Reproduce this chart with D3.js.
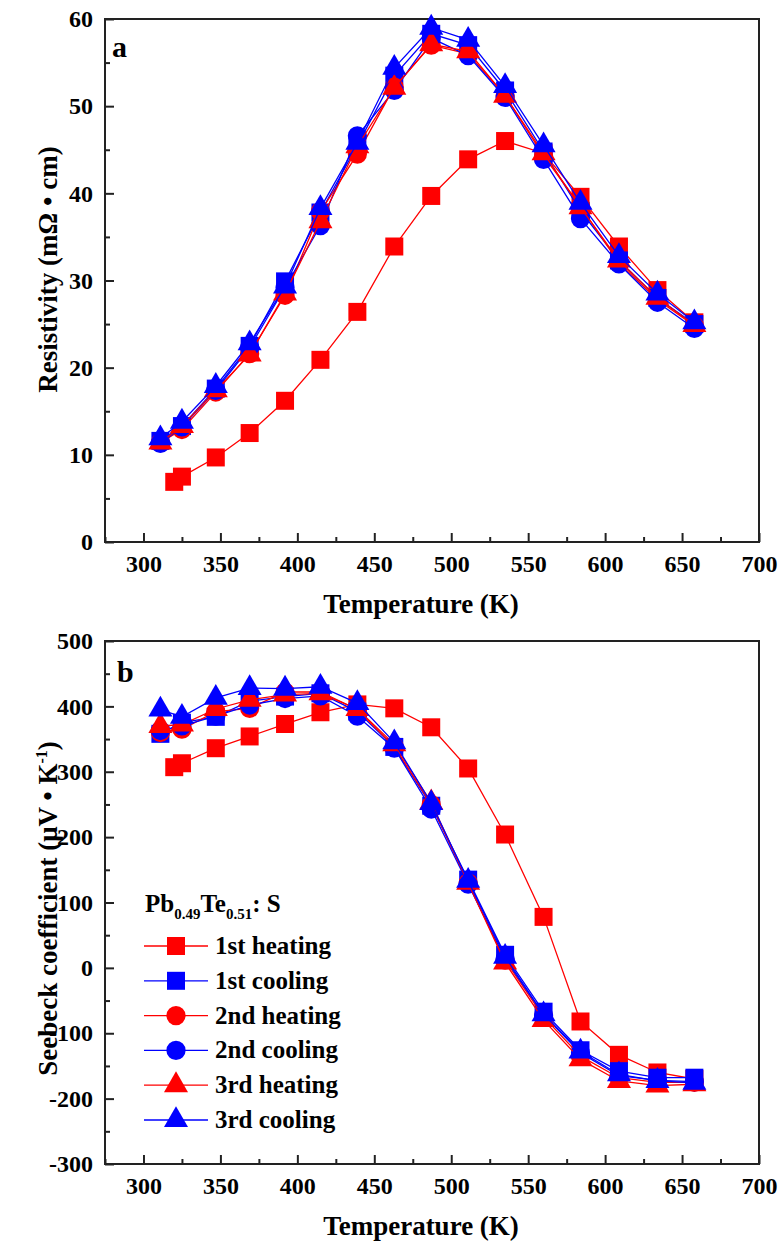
<!DOCTYPE html>
<html>
<head>
<meta charset="utf-8">
<script src="https://cdn.jsdelivr.net/npm/d3@7"></script>
<style>
  html, body { margin: 0; padding: 0; background: #fff; }
  svg { display: block; }
</style>
</head>
<body>
<svg id="chart" width="781" height="1246"></svg>
<script>
// Measurement temperatures (K)
const tempsCycle = [311, 325, 347, 369, 392, 415, 439, 463, 487, 511, 535, 560, 584, 609, 634, 658];
const tempsFirstHeating = [320, 325, 347, 369, 392, 415, 439, 463, 487, 511, 535, 560, 584, 609, 634, 658];

const seriesNames = ["1st heating", "1st cooling", "2nd heating", "2nd cooling", "3rd heating", "3rd cooling"];

// Resistivity (mΩ·cm)
const rho1stHeating = [6.9, 7.5, 9.7, 12.5, 16.2, 20.9, 26.4, 33.9, 39.7, 43.9, 46.0, 44.6, 39.6, 33.9, 28.9, 25.2];
const rho1stCooling = [11.6, 13.3, 17.6, 22.5, 29.9, 37.8, 45.5, 53.5, 58.3, 57.0, 51.8, 44.8, 38.0, 32.3, 28.0, 25.0];
const rho2ndHeating = [11.4, 12.9, 17.2, 21.6, 28.3, 37.9, 44.5, 52.2, 57.0, 56.0, 51.2, 44.3, 38.5, 32.0, 27.8, 24.8];
const rho2ndCooling = [11.3, 13.2, 17.4, 22.3, 29.2, 36.3, 46.6, 51.8, 57.8, 55.8, 51.0, 43.9, 37.1, 31.9, 27.5, 24.5];
const rho3rdHeating = [11.4, 13.3, 17.4, 21.5, 28.5, 36.8, 45.4, 52.1, 57.1, 56.3, 51.2, 44.6, 38.4, 32.3, 28.0, 24.9];
const rho3rdCooling = [11.9, 13.8, 17.9, 22.8, 29.3, 38.3, 45.8, 54.4, 59.0, 57.6, 52.3, 45.5, 38.9, 32.8, 28.5, 25.2];

// Seebeck coefficient (µV/K)
const seeb1stHeating = [307, 313, 336, 354, 373, 391, 403, 397, 368, 305, 204, 78, -82, -133, -160, -170];
const seeb1stCooling = [358, 375, 384, 408, 415, 420, 392, 338, 248, 135, 20, -67, -126, -158, -168, -168];
const seeb2ndHeating = [360, 365, 392, 397, 422, 422, 395, 338, 250, 130, 12, -75, -135, -168, -175, -175];
const seeb2ndCooling = [363, 370, 385, 402, 412, 416, 385, 336, 243, 128, 14, -72, -130, -165, -172, -174];
const seeb3rdHeating = [370, 372, 396, 410, 418, 420, 396, 342, 253, 130, 8, -80, -140, -173, -180, -178];
const seeb3rdCooling = [395, 384, 413, 428, 427, 430, 405, 345, 252, 133, 17, -71, -128, -163, -173, -176];

// Axis ticks
const xTicks = [300, 350, 400, 450, 500, 550, 600, 650, 700];
const yTicksRho = [0, 10, 20, 30, 40, 50, 60];
const yTicksSeeb = [-300, -200, -100, 0, 100, 200, 300, 400, 500];

const RED = "#ff0000", BLUE = "#0000ff";
const FONT = "'Liberation Serif', 'Times New Roman', Tinos, serif";
const styles = [
  { color: RED,  shape: d3.symbolSquare,   size: 324 },
  { color: BLUE, shape: d3.symbolSquare,   size: 324 },
  { color: RED,  shape: d3.symbolCircle,   size: 290 },
  { color: BLUE, shape: d3.symbolCircle,   size: 290 },
  { color: RED,  shape: d3.symbolTriangle, size: 250 },
  { color: BLUE, shape: d3.symbolTriangle, size: 250 }
];

const svg = d3.select("#chart");
const plotLeft = 105, plotRight = 759;
const plainNumber = d => String(d);   // hyphen-minus for negative labels

function drawPanel(opts) {
  const g = svg.append("g");
  const x = d3.scaleLinear().domain([275, 700]).range([plotLeft, plotRight]);
  const y = d3.scaleLinear().domain(opts.yDomain).range([opts.bottom, opts.top]);

  // frame
  g.append("rect")
    .attr("x", plotLeft).attr("y", opts.top)
    .attr("width", plotRight - plotLeft).attr("height", opts.bottom - opts.top)
    .attr("fill", "none").attr("stroke", "#222").attr("stroke-width", 2);

  // x axis: major ticks labelled, minor ticks in between, pointing inward
  const xMinor = d3.range(275, 701, 25).filter(v => !xTicks.includes(v));
  const xAx = g.append("g").attr("transform", `translate(0,${opts.bottom})`);
  xAx.call(d3.axisBottom(x).tickValues(xTicks).tickSize(-9).tickPadding(20).tickFormat(plainNumber));
  xAx.append("g").call(d3.axisBottom(x).tickValues(xMinor).tickSize(-5).tickFormat(""));
  xAx.selectAll(".domain").remove();

  // y axis
  const yAx = g.append("g").attr("transform", `translate(${plotLeft},0)`);
  yAx.call(d3.axisLeft(y).tickValues(opts.yTicks).tickSize(-9).tickPadding(12).tickFormat(plainNumber));
  yAx.append("g").call(d3.axisLeft(y).tickValues(opts.yMinor).tickSize(-5).tickFormat(""));
  yAx.selectAll(".domain").remove();

  g.selectAll(".tick line").attr("stroke", "#222").attr("stroke-width", 2);
  g.selectAll(".tick text").attr("font-size", 24).attr("fill", "#000");
  xAx.selectAll(".tick text").attr("dy", "0.42em");

  // series lines then markers, drawn in cycle order
  const line = d3.line().x(d => x(d[0])).y(d => y(d[1]));
  opts.series.forEach((vals, i) => {
    const temps = i === 0 ? tempsFirstHeating : tempsCycle;
    const pts = temps.map((t, k) => [t, vals[k]]);
    const st = styles[i];
    g.append("path").datum(pts)
      .attr("d", line).attr("fill", "none")
      .attr("stroke", st.color).attr("stroke-width", 1.3);
    g.selectAll(null).data(pts).enter().append("path")
      .attr("d", d3.symbol().type(st.shape).size(st.size))
      .attr("transform", d => `translate(${x(d[0])},${y(d[1])})`)
      .attr("fill", st.color);
  });

  // panel letter
  g.append("text").attr("x", opts.letterX).attr("y", opts.top + opts.letterDy)
    .attr("font-size", 30).text(opts.letter);

  // x axis title
  g.append("text").attr("x", 421).attr("y", opts.bottom + 71)
    .attr("text-anchor", "middle").attr("font-size", 27).text("Temperature (K)");

  // y axis title
  const yt = g.append("text")
    .attr("transform", `translate(57,${(opts.top + opts.bottom) / 2 + opts.titleShift}) rotate(-90)`)
    .attr("text-anchor", "middle").attr("font-size", 27);
  opts.yTitle(yt);
  return { x, y, g };
}

// Panel a: resistivity
drawPanel({
  top: 19, bottom: 542,
  yDomain: [0, 60], yTicks: yTicksRho,
  yMinor: d3.range(5, 60, 10),
  letter: "a", letterX: 112, letterDy: 38, titleShift: -11,
  series: [rho1stHeating, rho1stCooling, rho2ndHeating, rho2ndCooling, rho3rdHeating, rho3rdCooling],
  yTitle: t => t.text("Resistivity (mΩ • cm)")
});

// Panel b: Seebeck coefficient
drawPanel({
  top: 641, bottom: 1164,
  yDomain: [-300, 500], yTicks: yTicksSeeb,
  yMinor: d3.range(-250, 500, 100),
  letter: "b", letterX: 117, letterDy: 41, titleShift: 6,
  series: [seeb1stHeating, seeb1stCooling, seeb2ndHeating, seeb2ndCooling, seeb3rdHeating, seeb3rdCooling],
  yTitle: t => {
    t.append("tspan").text("Seebeck coefficient (μV • K");
    t.append("tspan").attr("font-size", 16).attr("dy", -10).text("-1");
    t.append("tspan").attr("dy", 10).text(")");
  }
});

// Legend
const lg = svg.append("g");
const title = lg.append("text").attr("x", 145).attr("y", 912).attr("font-size", 25);
title.append("tspan").text("Pb");
title.append("tspan").attr("font-size", 15).attr("dy", 7).text("0.49");
title.append("tspan").attr("dy", -7).text("Te");
title.append("tspan").attr("font-size", 15).attr("dy", 7).text("0.51");
title.append("tspan").attr("dy", -7).text(": S");

const rowY = d3.scaleLinear().domain([0, 5]).range([946, 1120]);
seriesNames.forEach((name, i) => {
  const cy = rowY(i), st = styles[i];
  lg.append("line").attr("x1", 144).attr("x2", 208).attr("y1", cy).attr("y2", cy)
    .attr("stroke", st.color).attr("stroke-width", 1.3);
  lg.append("path").attr("d", d3.symbol().type(st.shape).size(st.size))
    .attr("transform", `translate(176,${cy})`).attr("fill", st.color);
  lg.append("text").attr("x", 215).attr("y", cy + 8).attr("font-size", 25).text(name);
});

// serif bold type for every label
svg.selectAll("text")
  .style("font-family", FONT)
  .style("font-weight", "bold")
  .style("fill", "#000");
</script>
</body>
</html>
